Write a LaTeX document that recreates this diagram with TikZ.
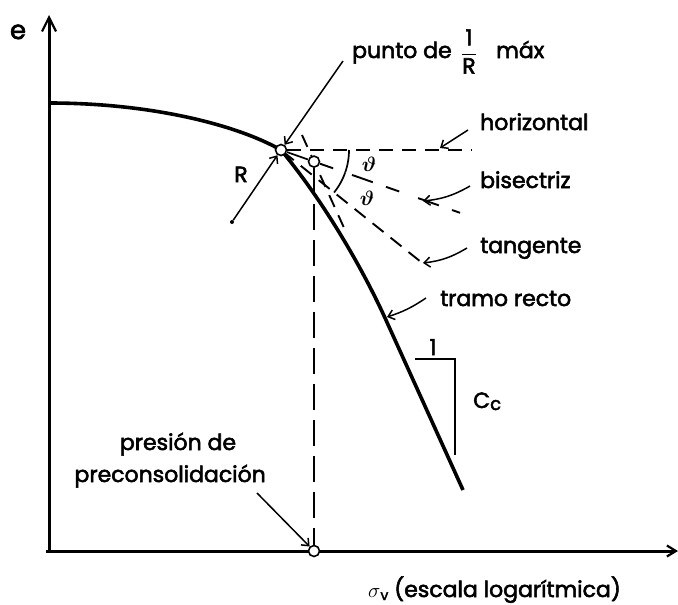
\documentclass[tikz,border=0pt]{standalone}
\usepackage{fontspec}
\setmainfont{Poppins}[FakeBold=2.5]
\usetikzlibrary{arrows.meta,calc}
\pgfdeclarelayer{background}
\pgfsetlayers{background,main}
\begin{document}
\begin{tikzpicture}[x=1pt,y=-1pt,
  axis/.style={line width=3pt},
  curveln/.style={line width=3.6pt},
  dashln/.style={line width=1.9pt, dash pattern=on 14pt off 9pt},
  vdashln/.style={line width=2.2pt, dash pattern=on 26pt off 10pt},
  ptr/.style={line width=1.5pt, -{Straight Barb[length=6pt,width=10pt,line width=1.5pt]}},
  pt/.style={circle, draw, fill=white, line width=1.6pt, inner sep=0pt, minimum size=11pt},
  smalldot/.style={circle, fill=black, inner sep=0pt, minimum size=4pt},
  lbl/.style={font=\fontsize{22}{24}\selectfont, inner sep=0pt},
  thlbl/.style={font=\fontsize{21}{22}\selectfont\boldmath, inner sep=0pt}]
\useasboundingbox (0,0) rectangle (678,605);

% points
\node[pt] (c1) at (281,150) {};
\node[pt] (c2) at (314,161.6) {};
\node[pt] (c3) at (314,551) {};
\node[smalldot] (rd) at (232,222) {};

\coordinate (o) at (49,551);
\coordinate (ytop) at (49,15);
\coordinate (xstart) at (46,551);
\coordinate (xend) at (678,551);
\coordinate (cstart) at (49,103);
\coordinate (j) at (385.5,319);
\coordinate (cend) at (463,490);
\coordinate (e1) at (302,135);
\coordinate (e2) at (345,230);
\coordinate (hend) at (472,150);
\coordinate (bend) at (460,212.8);
\coordinate (tend) at (425,265.2);

\begin{pgfonlayer}{background}
% axes
\draw[axis, -{Straight Barb[length=14pt,width=14pt,line width=2.2pt]}] (o) -- (ytop);
\draw[axis, -{Straight Barb[length=9pt,width=11pt,line width=2.2pt]}] (xstart) -- (xend);
% curve
\draw[curveln, line join=round] (cstart) .. controls (150,103) and (236,124.4) .. (c1.center)
   .. controls (321,198) and (360.5,264) .. (j) -- (cend);
% straight-part extension
\draw[line width=1.9pt, dash pattern=on 13pt off 9pt] (e1) -- (e2);
% construction lines
\draw[dashln] (c1) -- (hend);
\draw[line width=1.7pt] (c1) -- (c2);
\draw[line width=1.9pt, dash pattern=on 14pt off 20pt on 22pt off 14pt] (c2) -- (bend);
\draw[dashln, dash phase=4pt] (c1) -- (tend);
\draw[vdashln] (c2) -- (c3);
% angle marks
\draw[line width=1.7pt] plot[domain=0:19.3, samples=15] ({281+68*cos(\x)},{150+68*sin(\x)});
\draw[line width=1.7pt] plot[domain=19.3:38.7, samples=15] ({281+68*cos(\x)},{150+68*sin(\x)});
\end{pgfonlayer}

\node[thlbl] (th1) at (369,164) {$\vartheta$};
\node[thlbl] (th2) at (367,198) {$\vartheta$};

% radius
\draw[ptr] (rd) -- (c1);
\node[lbl, anchor=base] (rl) at (241,182) {R};

% labels
\node[lbl, font=\fontsize{26}{28}\selectfont, anchor=base] (el) at (18,39) {e};
\node[lbl, anchor=base west] (punto) at (352,58) {punto de};
\node[lbl] (frac) at (469,51.5) {$\displaystyle\frac{\mbox{1}}{\mbox{R}}$};
\node[lbl, anchor=base west] (maxl) at (496,58) {máx};
\coordinate (pa) at (343,61);
\draw[ptr] (pa) -- (c1);

\node[lbl, anchor=base west] (hl) at (480,130) {horizontal};
\coordinate (ha) at (468,130);
\coordinate (hb) at (440,148);
\draw[ptr] (ha) -- (hb);

\node[lbl, anchor=base west] (bl) at (480,188) {bisectriz};
\coordinate (ba) at (470,186);
\coordinate (bb) at (423,201);
\draw[ptr] (ba) to[bend left=12] (bb);

\node[lbl, anchor=base west] (tl) at (480,253) {tangente};
\coordinate (ta) at (467,248);
\coordinate (tb) at (423,263);
\draw[ptr] (ta) to[bend left=12] (tb);

\node[lbl, anchor=base west] (rl2) at (440,306) {tramo recto};
\coordinate (ra) at (426,298);
\coordinate (rb) at (387,317);
\draw[ptr] (ra) to[bend left=8] (rb);

% slope triangle
\coordinate (s1) at (415,359);
\coordinate (s2) at (455,359);
\coordinate (s3) at (455,455);
\draw[line width=2pt] (s1) -- (s2) -- (s3);
\node[lbl, anchor=base] (one) at (433,355) {1};
\node[lbl, anchor=base west] (cc) at (473,408) {C\raisebox{-2pt}{\fontsize{18}{20}\selectfont c}};

% preconsolidation
\node[lbl, anchor=base] (pr1) at (178,450) {presión de};
\node[lbl, anchor=base east] (pr2) at (266,482) {preconsolidación};
\coordinate (pca) at (257,493);
\draw[ptr] (pca) -- (c3);

\node[lbl, anchor=base west] (sx) at (368,597) {$\sigma$\raisebox{-3pt}{\fontsize{14}{16}\selectfont v} (escala logarítmica)};
\end{tikzpicture}
\end{document}
